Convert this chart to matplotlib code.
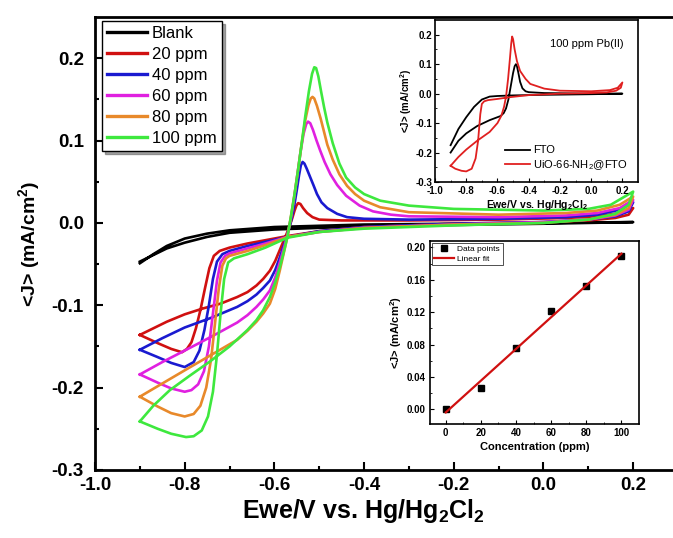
import matplotlib.pyplot as plt
import numpy as np

plt.rcParams['font.family'] = ['Liberation Sans', 'DejaVu Sans']
plt.rcParams['axes.unicode_minus'] = False
plt.rcParams['mathtext.fontset'] = 'custom'
plt.rcParams['mathtext.rm'] = 'Liberation Sans'
plt.rcParams['mathtext.bf'] = 'Liberation Sans:bold'

# main CV curves, each loop: potential (V) and current density (mA/cm2)
# order: start at -0.9, anodic sweep to 0.2, then cathodic sweep back to -0.9
blank_x = [-0.9, -0.87, -0.84, -0.8, -0.75, -0.7, -0.6, -0.4, 0.0, 0.2,
           0.2, 0.0, -0.4, -0.6, -0.7, -0.75, -0.8, -0.84, -0.87, -0.9]
blank_y = [-0.049, -0.038, -0.028, -0.019, -0.013, -0.009, -0.005, -0.002, 0.0, 0.001,
           0.001, -0.001, -0.004, -0.008, -0.012, -0.017, -0.024, -0.031, -0.039, -0.047]

ppm20_x = [-0.9, -0.87, -0.84, -0.8, -0.76, -0.72, -0.683, -0.66, -0.64, -0.625, -0.61, -0.598, -0.588,
           -0.578, -0.571, -0.565, -0.56, -0.555, -0.551, -0.547, -0.542, -0.536, -0.527, -0.515, -0.5,
           -0.45, -0.3, -0.1, 0.05, 0.12, 0.17, 0.2,
           0.19, 0.16, 0.1, 0.0, -0.2, -0.4, -0.5, -0.571, -0.62, -0.66, -0.7, -0.722, -0.735, -0.745,
           -0.755, -0.765, -0.775, -0.785, -0.795, -0.806, -0.83, -0.86, -0.9]
ppm20_y = [-0.136, -0.128, -0.12, -0.111, -0.104, -0.098, -0.09, -0.084, -0.076, -0.068, -0.058, -0.046, -0.033,
           -0.02, -0.011, -0.002, 0.006, 0.015, 0.021, 0.024, 0.023, 0.018, 0.012, 0.007, 0.004,
           0.003, 0.003, 0.004, 0.006, 0.008, 0.012, 0.018,
           0.01, 0.006, 0.003, 0.001, -0.001, -0.005, -0.01, -0.016, -0.021, -0.025, -0.03, -0.034, -0.04, -0.055,
           -0.08, -0.106, -0.128, -0.145, -0.153, -0.157, -0.153, -0.146, -0.136]

ppm40_x = [-0.9, -0.85, -0.8, -0.74, -0.683, -0.66, -0.64, -0.625, -0.61, -0.598, -0.588, -0.578, -0.571,
           -0.563, -0.556, -0.55, -0.545, -0.541, -0.537, -0.533, -0.528, -0.522, -0.513, -0.505, -0.495,
           -0.482, -0.46, -0.438, -0.4, -0.3, -0.1, 0.05, 0.12, 0.17, 0.2,
           0.19, 0.16, 0.1, 0.0, -0.2, -0.4, -0.5, -0.571, -0.62, -0.66, -0.7, -0.716, -0.728, -0.737,
           -0.746, -0.756, -0.767, -0.78, -0.8, -0.83, -0.86, -0.9]
ppm40_y = [-0.154, -0.14, -0.127, -0.115, -0.102, -0.095, -0.087, -0.079, -0.07, -0.057, -0.042, -0.026, -0.014,
           0.002, 0.02, 0.04, 0.058, 0.07, 0.074, 0.072, 0.066, 0.058, 0.046, 0.035, 0.025,
           0.018, 0.011, 0.007, 0.005, 0.004, 0.005, 0.007, 0.01, 0.016, 0.025,
           0.014, 0.008, 0.004, 0.001, -0.001, -0.005, -0.01, -0.017, -0.023, -0.028, -0.034, -0.038, -0.047, -0.068,
           -0.1, -0.13, -0.155, -0.169, -0.175, -0.17, -0.163, -0.154]

ppm60_x = [-0.9, -0.85, -0.8, -0.74, -0.683, -0.66, -0.64, -0.625, -0.61, -0.598, -0.588, -0.578, -0.571,
           -0.563, -0.556, -0.549, -0.542, -0.535, -0.529, -0.525, -0.52, -0.514, -0.506, -0.498, -0.488,
           -0.475, -0.46, -0.44, -0.41, -0.38, -0.34, -0.3, -0.1, 0.05, 0.12, 0.17, 0.2,
           0.19, 0.16, 0.1, 0.0, -0.2, -0.4, -0.5, -0.571, -0.62, -0.66, -0.7, -0.71, -0.72, -0.728,
           -0.737, -0.746, -0.757, -0.77, -0.785, -0.8, -0.83, -0.86, -0.9]
ppm60_y = [-0.184, -0.169, -0.155, -0.138, -0.121, -0.112, -0.102, -0.093, -0.082, -0.066, -0.048, -0.029, -0.015,
           0.006, 0.03, 0.058, 0.085, 0.108, 0.12, 0.123, 0.121, 0.113, 0.1, 0.088, 0.074,
           0.059, 0.046, 0.033, 0.021, 0.014, 0.01, 0.008, 0.007, 0.009, 0.012, 0.018, 0.028,
           0.016, 0.009, 0.004, 0.001, -0.002, -0.006, -0.011, -0.017, -0.025, -0.031, -0.037, -0.04, -0.048, -0.07,
           -0.11, -0.15, -0.18, -0.196, -0.203, -0.205, -0.201, -0.194, -0.184]

ppm80_x = [-0.9, -0.85, -0.8, -0.74, -0.683, -0.66, -0.64, -0.625, -0.61, -0.598, -0.588, -0.578, -0.571,
           -0.563, -0.555, -0.547, -0.539, -0.531, -0.524, -0.519, -0.515, -0.511, -0.505, -0.497, -0.489,
           -0.482, -0.47, -0.455, -0.438, -0.42, -0.4, -0.364, -0.3, -0.1, 0.05, 0.12, 0.17, 0.2,
           0.19, 0.16, 0.1, 0.0, -0.2, -0.4, -0.5, -0.571, -0.62, -0.66, -0.7, -0.708, -0.716, -0.724,
           -0.732, -0.741, -0.752, -0.765, -0.78, -0.8, -0.83, -0.86, -0.9]
ppm80_y = [-0.211, -0.195, -0.179, -0.16, -0.142, -0.131, -0.12, -0.11, -0.098, -0.08, -0.058, -0.034, -0.017,
           0.008, 0.035, 0.065, 0.097, 0.125, 0.143, 0.151, 0.153, 0.151, 0.142, 0.127, 0.11,
           0.095, 0.077, 0.059, 0.045, 0.035, 0.027, 0.019, 0.013, 0.01, 0.012, 0.015, 0.022, 0.032,
           0.018, 0.01, 0.004, 0.0, -0.002, -0.006, -0.011, -0.017, -0.027, -0.034, -0.04, -0.043, -0.052, -0.08,
           -0.12, -0.165, -0.2, -0.222, -0.232, -0.235, -0.231, -0.223, -0.211]

ppm100_x = [-0.9, -0.87, -0.833, -0.79, -0.743, -0.7, -0.66, -0.64, -0.625, -0.61, -0.598, -0.587, -0.578,
            -0.571, -0.563, -0.555, -0.547, -0.539, -0.531, -0.523, -0.516, -0.511, -0.507, -0.502, -0.496,
            -0.489, -0.482, -0.47, -0.455, -0.44, -0.42, -0.4, -0.364, -0.3, -0.2, 0.0, 0.1, 0.15, 0.2,
            0.19, 0.16, 0.1, 0.0, -0.2, -0.4, -0.5, -0.571, -0.62, -0.66, -0.69, -0.703, -0.712, -0.72,
            -0.728, -0.737, -0.748, -0.762, -0.78, -0.797, -0.83, -0.86, -0.9]
ppm100_y = [-0.241, -0.222, -0.203, -0.186, -0.168, -0.15, -0.13, -0.118, -0.106, -0.09, -0.072, -0.052, -0.033,
            -0.017, 0.008, 0.035, 0.065, 0.097, 0.13, 0.16, 0.181, 0.189, 0.188, 0.178, 0.16,
            0.14, 0.122, 0.097, 0.072, 0.055, 0.043, 0.035, 0.027, 0.021, 0.017, 0.015, 0.017, 0.022, 0.038,
            0.022, 0.011, 0.004, 0.0, -0.003, -0.007, -0.011, -0.018, -0.03, -0.038, -0.043, -0.048, -0.068, -0.11,
            -0.16, -0.205, -0.235, -0.252, -0.259, -0.26, -0.256, -0.25, -0.241]

labels = ['Blank', '20 ppm', '40 ppm', '60 ppm', '80 ppm', '100 ppm']
colors = ['black', '#d01010', '#1a1ad0', '#e020e0', '#e8892a', '#3ee83e']
curves_x = [blank_x, ppm20_x, ppm40_x, ppm60_x, ppm80_x, ppm100_x]
curves_y = [blank_y, ppm20_y, ppm40_y, ppm60_y, ppm80_y, ppm100_y]

# top inset: FTO vs UiO-66-NH2@FTO at 100 ppm
fto_x = [-0.9, -0.85, -0.8, -0.73, -0.65, -0.58, -0.56, -0.545, -0.53, -0.515, -0.5, -0.49, -0.482, -0.475,
         -0.466, -0.455, -0.44, -0.42, -0.4, -0.3, 0.0, 0.2,
         0.2, 0.0, -0.3, -0.5, -0.6, -0.65, -0.7, -0.75, -0.8, -0.85, -0.9]
fto_y = [-0.2, -0.16, -0.135, -0.11, -0.09, -0.076, -0.066, -0.05, -0.02, 0.025, 0.07, 0.093, 0.1, 0.093,
         0.07, 0.04, 0.018, 0.008, 0.005, 0.002, 0.0, 0.0,
         0.0, -0.002, -0.004, -0.006, -0.008, -0.01, -0.02, -0.045, -0.08, -0.12, -0.175]
uio_x = [-0.9, -0.85, -0.8, -0.73, -0.65, -0.6, -0.575, -0.558, -0.545, -0.532, -0.52, -0.512, -0.506, -0.5,
         -0.49, -0.475, -0.455, -0.42, -0.39, -0.3, -0.2, 0.0, 0.12, 0.17, 0.2,
         0.19, 0.16, 0.1, 0.0, -0.2, -0.4, -0.52, -0.6, -0.66, -0.685, -0.7, -0.71, -0.724, -0.74, -0.765,
         -0.8, -0.83, -0.87, -0.9]
uio_y = [-0.245, -0.215, -0.19, -0.16, -0.13, -0.1, -0.075, -0.045, -0.01, 0.05, 0.12, 0.17, 0.194, 0.185,
         0.15, 0.11, 0.077, 0.05, 0.033, 0.017, 0.01, 0.008, 0.012, 0.02, 0.038,
         0.02, 0.01, 0.004, 0.002, 0.0, -0.005, -0.012, -0.018, -0.022, -0.026, -0.035, -0.07, -0.16, -0.22, -0.255,
         -0.264, -0.262, -0.255, -0.245]

# bottom inset: peak current vs concentration
conc = [0, 20, 40, 60, 80, 100]
peak_j = [0.000, 0.026, 0.076, 0.122, 0.153, 0.189]

fig = plt.figure(figsize=(6.73, 5.38), dpi=100)
ax = fig.add_axes([95/673, 1-470/538, 583/673, 453/538])
for i in range(len(labels)):
    ax.plot(curves_x[i], curves_y[i], color=colors[i], lw=1.9, label=labels[i])
ax.set_xlim(-1.0, 0.3)
ax.set_ylim(-0.3, 0.25)
ax.set_xticks([-1.0, -0.8, -0.6, -0.4, -0.2, 0.0, 0.2])
ax.set_xticks(np.arange(-0.9, 0.3, 0.2), minor=True)
ax.set_yticks([-0.3, -0.2, -0.1, 0.0, 0.1, 0.2])
ax.set_yticks([-0.25, -0.15, -0.05, 0.05, 0.15], minor=True)
ax.tick_params(which='both', direction='in', top=False, right=False, width=1.5)
ax.tick_params(which='major', length=6, labelsize=13.5)
ax.tick_params(which='minor', length=3)
ax.tick_params(axis='y', pad=8)
ax.tick_params(axis='x', pad=5)
for t in ax.get_xticklabels() + ax.get_yticklabels():
    t.set_fontweight('bold')
for s in ax.spines.values():
    s.set_linewidth(2)
ax.set_xlabel('Ewe/V vs. Hg/Hg$_\\mathbf{2}$Cl$_\\mathbf{2}$', fontsize=18, fontweight='bold')
ax.xaxis.set_label_coords(0.461, -0.06)
ax.set_ylabel('<J> (mA/cm$^\\mathbf{2}$)', fontsize=14, fontweight='bold', labelpad=6)
leg = ax.legend(loc='upper left', bbox_to_anchor=(0.005, 1.0), fontsize=12, frameon=True, shadow=True,
                fancybox=False, handlelength=2.4, labelspacing=0.36, borderpad=0.3, handletextpad=0.3,
                borderaxespad=0.25)
leg.get_frame().set_edgecolor('black')
leg.get_frame().set_linewidth(1.0)
for line in leg.get_lines():
    line.set_linewidth(2.4)

# top inset
ax1 = fig.add_axes([435/673, 1-182/538, 203/673, 162/538])
ax1.plot(fto_x, fto_y, color='black', lw=1.3, label='FTO')
ax1.plot(uio_x, uio_y, color='#e02020', lw=1.3, label='UiO-66-NH$_2$@FTO')
ax1.set_xlim(-1.0, 0.3)
ax1.set_ylim(-0.3, 0.25)
ax1.set_xticks([-1.0, -0.8, -0.6, -0.4, -0.2, 0.0, 0.2])
ax1.set_yticks([-0.3, -0.2, -0.1, 0.0, 0.1, 0.2])
ax1.set_xticks(np.arange(-0.9, 0.3, 0.2), minor=True)
ax1.set_yticks([-0.25, -0.15, -0.05, 0.05, 0.15], minor=True)
ax1.tick_params(which='both', direction='in', top=False, right=False, labelsize=7)
ax1.tick_params(axis='y', pad=2)
ax1.tick_params(axis='x', pad=3)
ax1.tick_params(which='major', length=3)
ax1.tick_params(which='minor', length=1.5)
for t in ax1.get_xticklabels() + ax1.get_yticklabels():
    t.set_fontweight('bold')
for s in ax1.spines.values():
    s.set_linewidth(1.2)
ax1.set_xlabel('Ewe/V vs. Hg/Hg$_\\mathbf{2}$Cl$_\\mathbf{2}$', fontsize=7.5, fontweight='bold', labelpad=1)
ax1.set_ylabel('<J> (mA/cm$^\\mathbf{2}$)', fontsize=7, fontweight='bold', labelpad=1)
ax1.text(0.75, 0.85, '100 ppm Pb(II)', transform=ax1.transAxes, fontsize=8, ha='center', va='center')
ax1.legend(loc='lower right', bbox_to_anchor=(1.0, 0.0), fontsize=8, frameon=False, handlelength=2.2,
           labelspacing=0.25, handletextpad=0.3)

# bottom inset
ax2 = fig.add_axes([430/673, 1-424/538, 209/673, 183/538])
slope, icpt = np.polyfit(conc, peak_j, 1)
fit_x = [conc[0], conc[-1]]
fit_y = [slope * c + icpt for c in fit_x]
ax2.plot(conc, peak_j, 's', color='black', ms=4.5, label='Data points')
ax2.plot(fit_x, fit_y, color='#d01010', lw=1.6, label='Linear fit')
ax2.set_xlim(-9, 110)
ax2.set_ylim(-0.018, 0.208)
ax2.set_xticks([0, 20, 40, 60, 80, 100])
ax2.set_xticks([10, 30, 50, 70, 90], minor=True)
ax2.set_yticks([0.00, 0.04, 0.08, 0.12, 0.16, 0.20])
ax2.set_yticks([0.02, 0.06, 0.10, 0.14, 0.18], minor=True)
ax2.set_yticklabels(['0.00', '0.04', '0.08', '0.12', '0.16', '0.20'])
ax2.tick_params(which='both', direction='in', top=False, right=False, labelsize=7, pad=3)
ax2.tick_params(which='major', length=3)
ax2.tick_params(which='minor', length=1.5)
for t in ax2.get_xticklabels() + ax2.get_yticklabels():
    t.set_fontweight('bold')
for s in ax2.spines.values():
    s.set_linewidth(1.2)
ax2.set_xlabel('Concentration (ppm)', fontsize=8, fontweight='bold', labelpad=3)
ax2.set_ylabel('<J> (mA/cm$^\\mathbf{2}$)', fontsize=8, fontweight='bold', labelpad=2)
leg2 = ax2.legend(loc='upper left', fontsize=6, frameon=True, fancybox=False, handlelength=2.4,
                  borderaxespad=0.2, borderpad=0.3, labelspacing=0.2, handletextpad=0.4)
leg2.get_frame().set_edgecolor('black')
leg2.get_frame().set_linewidth(0.6)

plt.savefig('out.png', dpi=100)
